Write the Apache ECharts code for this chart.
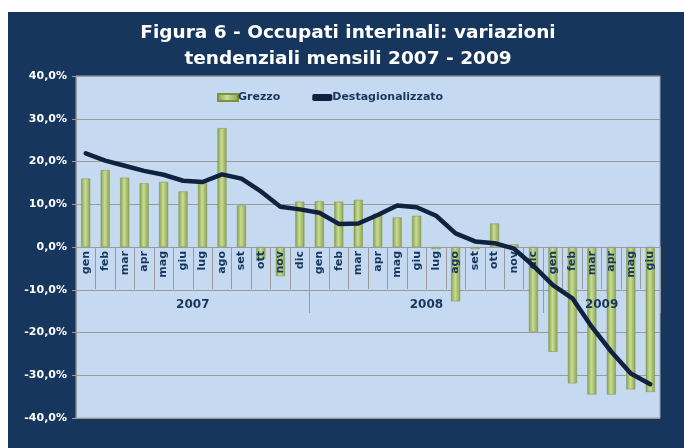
<!DOCTYPE html>
<html>
<head>
<meta charset="utf-8">
<script src="https://cdn.jsdelivr.net/npm/echarts@6/dist/echarts.min.js"></script>
<style>
html, body { margin: 0; padding: 0; background: #ffffff; }
#main { position: absolute; left: 8px; top: 12px; width: 676px; height: 436px; background: #17365d; }
</style>
</head>
<body>
<div id="main"></div>
<script>
// dati
var mesi = ['gen', 'feb', 'mar', 'apr', 'mag', 'giu', 'lug', 'ago', 'set', 'ott', 'nov', 'dic',
    'gen', 'feb', 'mar', 'apr', 'mag', 'giu', 'lug', 'ago', 'set', 'ott', 'nov', 'dic',
    'gen', 'feb', 'mar', 'apr', 'mag', 'giu'];
var anni = ['2007', '2008', '2009'];
var anniPos = [6, 18, 27]; // centro di ogni gruppo, in mesi
var grezzo = [16.0, 18.0, 16.2, 14.9, 15.2, 13.0, 14.9, 27.8, 9.7, -2.8, -6.8, 10.6,
    10.7, 10.6, 11.0, 7.8, 6.9, 7.3, -0.5, -12.7, -0.5, 5.5, 0.6, -19.8,
    -24.5, -31.9, -34.5, -34.5, -33.3, -33.9];
var destag = [21.9, 20.2, 19.0, 17.8, 16.9, 15.5, 15.2, 17.0, 16.0, 13.0, 9.4, 8.8,
    8.0, 5.4, 5.5, 7.5, 9.7, 9.3, 7.3, 3.2, 1.3, 0.9, -0.4, -4.4,
    -8.9, -12.0, -18.7, -24.5, -29.6, -32.1];
var yMin = -40, yMax = 40, yStep = 10;

var navy = '#17375e';
var grigio = '#9a9a9a';
var myChart = echarts.init(document.getElementById('main'));

function perc(v) {
    return v.toFixed(1).replace('.', ',') + '%';
}

// griglia 0: il grafico; griglia 1: meta' superiore, il suo bordo basso e' la linea dello zero
var gTop = 64, gBottom = 30, gH = 436 - gTop - gBottom;

var option = {
    animation: false,
    title: {
        text: 'Figura 6 - Occupati interinali: variazioni\ntendenziali mensili 2007 - 2009',
        left: 335, top: 3, textAlign: 'center',
        textStyle: { color: '#ffffff', fontFamily: 'DejaVu Sans', fontWeight: 'bold', fontSize: 18.5, lineHeight: 26 }
    },
    legend: {
        left: 204, top: 75,
        itemGap: 32, itemWidth: 20, itemHeight: 7,
        data: [
            { name: 'Grezzo', icon: 'rect' },
            { name: 'Destagionalizzato', icon: 'roundRect' }
        ],
        textStyle: { color: navy, fontFamily: 'DejaVu Sans', fontWeight: 'bold', fontSize: 11, padding: [0, 0, 0, -5] }
    },
    grid: [
        { left: 68, right: 24, top: gTop, bottom: gBottom, show: true, backgroundColor: '#c5d9f1', borderColor: '#a6a6a6', borderWidth: 1 },
        { left: 68, right: 24, top: gTop, height: gH / 2 }
    ],
    xAxis: [{
        gridIndex: 0, type: 'category', data: mesi, show: false
    }, {
        gridIndex: 1, type: 'category', data: mesi, z: 5, position: 'bottom',
        axisLine: { show: true, onZero: false, lineStyle: { color: grigio, width: 1 } },
        axisTick: { show: true, interval: 0, length: 42, lineStyle: { color: grigio } },
        axisLabel: { show: true, interval: 0, rotate: 90, margin: 4, color: navy, fontFamily: 'DejaVu Sans', fontWeight: 'bold', fontSize: 11 }
    }, {
        gridIndex: 1, type: 'category', data: mesi, z: 5, position: 'bottom', offset: 0,
        axisLine: { show: false, onZero: false },
        axisTick: { show: true, interval: function (i) { return i % 12 === 0; }, length: 66, lineStyle: { color: grigio } },
        axisLabel: { show: false }
    }, {
        gridIndex: 1, type: 'value', min: 0, max: mesi.length, interval: 3, z: 5, position: 'bottom', offset: 0,
        axisLine: { show: false, onZero: false },
        axisTick: { show: false },
        splitLine: { show: false },
        axisLabel: {
            show: true, margin: 52, color: navy, fontFamily: 'DejaVu Sans', fontWeight: 'bold', fontSize: 12,
            formatter: function (v) {
                var k = anniPos.indexOf(v);
                return k >= 0 ? anni[k] : '';
            }
        }
    }],
    yAxis: [{
        gridIndex: 0, type: 'value', min: yMin, max: yMax, interval: yStep,
        axisLine: { show: true, lineStyle: { color: grigio } },
        axisTick: { show: true, length: 4, lineStyle: { color: grigio } },
        splitLine: { lineStyle: { color: grigio, width: 1 } },
        axisLabel: { color: '#ffffff', fontFamily: 'DejaVu Sans', fontWeight: 'bold', fontSize: 11, margin: 9, formatter: perc }
    }, {
        gridIndex: 1, type: 'value', min: 0, max: 1, show: false
    }],
    series: [{
        name: 'Grezzo', type: 'bar', data: grezzo, barWidth: 9, xAxisIndex: 0, yAxisIndex: 0,
        itemStyle: {
            color: new echarts.graphic.LinearGradient(0, 0, 1, 0, [
                { offset: 0, color: '#86a04a' },
                { offset: 0.45, color: '#c9dc95' },
                { offset: 1, color: '#8aa34f' }
            ]),
            borderColor: '#7b9244', borderWidth: 0.5
        }
    }, {
        name: 'Destagionalizzato', type: 'line', data: destag, z: 6, xAxisIndex: 0, yAxisIndex: 0,
        symbol: 'none',
        lineStyle: { color: '#0f2240', width: 4.5, cap: 'round', join: 'round' },
        itemStyle: { color: '#0f2240' }
    }]
};
myChart.setOption(option);
</script>
</body>
</html>
